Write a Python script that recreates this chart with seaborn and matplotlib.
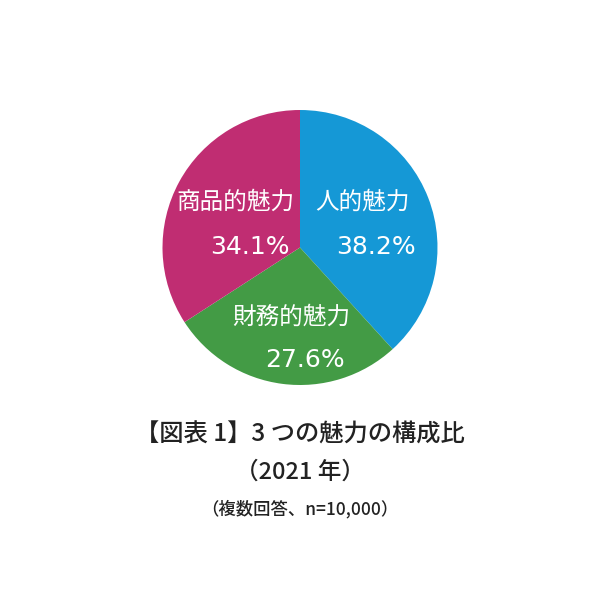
import matplotlib
matplotlib.use("Agg")
import matplotlib.pyplot as plt
import seaborn as sns

labels = ["人的魅力", "財務的魅力", "商品的魅力"]
shares = [38.2, 27.6, 34.1]
colors = ["#1598d6", "#439b45", "#c02d72"]

# text placement inside the pie (in units of the radius)
label_xy = [(0.456, 0.328), (-0.066, -0.504), (-0.467, 0.328)]
pct_xy = [(0.551, 0.0), (0.033, -0.818), (-0.365, 0.0)]

sns.set_theme(style="white")
plt.rcParams["font.family"] = ["Noto Sans CJK JP", "DejaVu Sans"]

fig = plt.figure(figsize=(6, 6), dpi=100)
r = 137.5 / 600
ax = fig.add_axes([0.5 - r, 1 - 247.5 / 600 - r, 2 * r, 2 * r])

wedges, _ = ax.pie(shares, colors=colors, startangle=90, counterclock=False,
                   wedgeprops=dict(linewidth=0))
ax.set_aspect("equal")
ax.set_xlim(-1, 1)
ax.set_ylim(-1, 1)

for lab, val, lxy, pxy in zip(labels, shares, label_xy, pct_xy):
    ax.text(*lxy, lab, ha="center", va="center", color="white", fontsize=17)
    ax.text(*pxy, f"{val:.1f}%", ha="center", va="center", color="white",
            fontsize=18, family=["DejaVu Sans"])

fig.text(0.5, 1 - 435 / 600, "【図表 1】3 つの魅力の構成比", ha="center", va="center",
         fontsize=17.5, fontweight="medium", color="#222222")
fig.text(0.5, 1 - 472 / 600, "（2021 年）", ha="center", va="center",
         fontsize=17, fontweight="medium", color="#222222")
fig.text(0.5, 1 - 509 / 600, "（複数回答、n=10,000）", ha="center", va="center",
         fontsize=12.5, fontweight="medium", color="#222222")

fig.savefig("out.png", dpi=100, facecolor="white")
